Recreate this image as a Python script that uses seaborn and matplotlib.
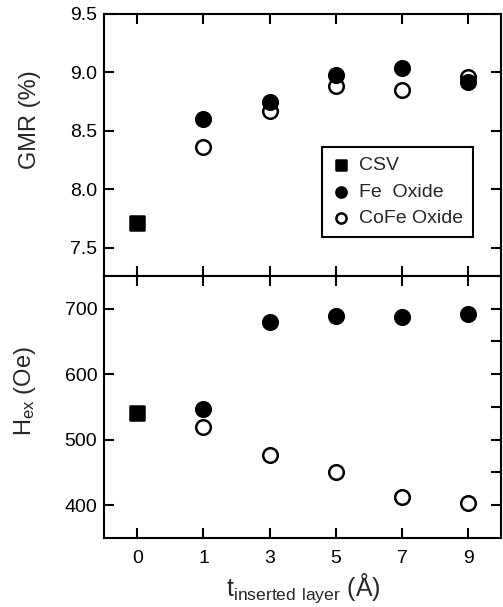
# GMR and exchange field vs inserted layer thickness

import numpy as np
import pandas as pd
import matplotlib
matplotlib.use("Agg")
import matplotlib.pyplot as plt
from matplotlib.ticker import FixedLocator
import seaborn as sns

# inserted layer thickness (A), shown as evenly spaced categories
thickness = ["0", "1", "3", "5", "7", "9"]
oxide_thickness = ["1", "3", "5", "7", "9"]

csv_gmr = [7.71]
fe_gmr = [8.60, 8.75, 8.98, 9.04, 8.92]
cofe_gmr = [8.36, 8.67, 8.88, 8.85, 8.96]

csv_hex = [541]
fe_hex = [546, 679, 689, 687, 692]
cofe_hex = [519, 477, 450, 413, 403]

pos = {t: i for i, t in enumerate(thickness)}
x_csv = [pos["0"]]
x_ox = [pos[t] for t in oxide_thickness]

sns.set_style("ticks")
plt.rcParams["font.family"] = ["Liberation Sans", "DejaVu Sans"]
plt.rcParams["mathtext.default"] = "regular"
plt.rcParams["axes.linewidth"] = 1.5

fig, (ax1, ax2) = plt.subplots(2, 1, sharex=True, figsize=(5.03, 6.07), dpi=100)
fig.subplots_adjust(left=0.207, right=0.997, top=0.977, bottom=0.114, hspace=0)

ms = 110
lw = 1.8


def draw(ax, csv, fe, cofe, with_labels):
    sns.scatterplot(x=x_csv, y=csv, ax=ax, marker="s", s=ms, color="black",
                    edgecolor="black", linewidth=lw, zorder=3,
                    label="CSV" if with_labels else None, legend=False)
    sns.scatterplot(x=x_ox, y=cofe, ax=ax, marker="o", s=ms, color="white",
                    edgecolor="black", linewidth=lw, zorder=3,
                    label="CoFe Oxide" if with_labels else None, legend=False)
    sns.scatterplot(x=x_ox, y=fe, ax=ax, marker="o", s=ms, color="black",
                    edgecolor="black", linewidth=lw, zorder=4,
                    label="Fe  Oxide" if with_labels else None, legend=False)


draw(ax1, csv_gmr, fe_gmr, cofe_gmr, True)
draw(ax2, csv_hex, fe_hex, cofe_hex, False)

for ax in (ax1, ax2):
    for sp in ax.spines.values():
        sp.set_visible(True)
        sp.set_color("black")
    ax.tick_params(which="both", direction="in", length=7, width=1.5,
                   top=True, right=True, colors="black", labelsize=14)
    ax.tick_params(axis="y", pad=5)
    ax.tick_params(axis="x", pad=9)

ax1.set_xlim(-0.5, len(thickness) - 0.5)
ax2.set_xticks(range(len(thickness)))
ax2.set_xticklabels(thickness)

ax1.set_ylim(7.26, 9.5)
ax1.set_yticks([7.5, 8.0, 8.5, 9.0, 9.5])
ax1.set_yticklabels(["7.5", "8.0", "8.5", "9.0", "9.5"])
ax1.set_ylabel("GMR (%)", fontsize=17)
ax1.yaxis.set_label_coords(-0.158, 0.595)

ax2.set_ylim(350, 750)
ax2.set_yticks([400, 500, 600, 700])
ax2.yaxis.set_minor_locator(FixedLocator([450, 550, 650]))
ax2.tick_params(axis="y", which="minor", left=False, right=True)
ax2.set_ylabel("H$_{ex}$ (Oe)", fontsize=17)
ax2.yaxis.set_label_coords(-0.166, 0.561)
ax2.set_xlabel(r"t$_{inserted\ layer}$ (Å)", fontsize=18, labelpad=3)

handles, labels = ax1.get_legend_handles_labels()
order = [labels.index(l) for l in ["CSV", "Fe  Oxide", "CoFe Oxide"]]
leg = ax1.legend([handles[i] for i in order], [labels[i] for i in order],
                 loc="upper left", bbox_to_anchor=(0.548, 0.492),
                 borderaxespad=0, fontsize=14, markerscale=0.7, frameon=True,
                 fancybox=False, edgecolor="black", framealpha=1,
                 handletextpad=0.4, labelspacing=0.45, borderpad=0.5,
                 handlelength=1.0)
leg.get_frame().set_linewidth(1.5)

plt.savefig("out.png", dpi=100)
